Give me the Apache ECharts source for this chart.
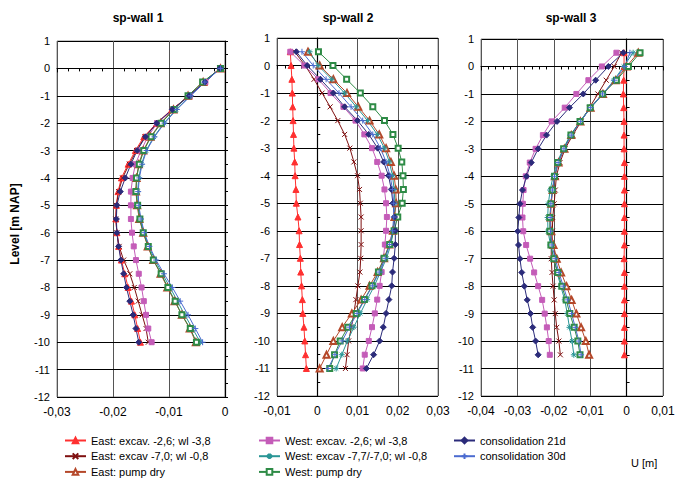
<!DOCTYPE html>
<html><head><meta charset="utf-8">
<script src="https://cdn.jsdelivr.net/npm/echarts@6/dist/echarts.min.js"></script>
<style>html,body{margin:0;padding:0;background:#fff}.c{width:684px;height:484px;position:absolute;left:0;top:0}</style>
</head><body>
<div class="c" id="p0"></div><div class="c" id="p1"></div><div class="c" id="p2"></div>
<script>
const seriesNames = [
  'East: excav. -2,6; wl -3,8',
  'East: excav -7,0; wl -0,8',
  'East: pump dry',
  'West: excav. -2,6; wl -3,8',
  'West: excav -7,7/-7,0; wl -0,8',
  'West: pump dry',
  'consolidation 21d',
  'consolidation 30d'
];
const panelTitles = ['sp-wall 1', 'sp-wall 2', 'sp-wall 3'];
const xMins = [-0.03, -0.01, -0.04];
const xMaxs = [0, 0.03, 0.01];
const yMin = -12, yMax = 1;
// interior grid-line ticks
const xGridTicks = [[-0.02, -0.01], [0.01, 0.02], [-0.03, -0.02, -0.01]];
const yGridTicks = [-11, -10, -9, -8, -7, -6, -5, -4, -3, -2, -1, 0];

// levels [m NAP]
const levels1 = [0,-0.5,-1,-1.5,-2,-2.5,-3,-3.5,-4,-4.5,-5,-5.5,-6,-6.5,-7,-7.5,-8,-8.5,-9,-9.5,-10];
const levels2 = [0.5,0,-0.5,-1,-1.5,-2,-2.5,-3,-3.5,-4,-4.5,-5,-5.5,-6,-6.5,-7,-7.5,-8,-8.5,-9,-9.5,-10,-10.5,-11];
const levels3 = [0.5,0,-0.5,-1,-1.5,-2,-2.5,-3,-3.5,-4,-4.5,-5,-5.5,-6,-6.5,-7,-7.5,-8,-8.5,-9,-9.5,-10,-10.5];

// sp-wall 1 displacements U [m]
const w1_e1 = [-0.0009,-0.0036,-0.0064,-0.0095,-0.0122,-0.0145,-0.0160,-0.0173,-0.0185,-0.0191,-0.0194,-0.0195,-0.0193,-0.0190,-0.0185,-0.0179,-0.0173,-0.0167,-0.0161,-0.0156,-0.0151];
const w1_e2 = [-0.0009,-0.0036,-0.0064,-0.0094,-0.0121,-0.0143,-0.0158,-0.0171,-0.0183,-0.0190,-0.0194,-0.0195,-0.0193,-0.0189,-0.0181,-0.0170,-0.0162,-0.0155,-0.0148,-0.0141,-0.0137];
const w1_e3 = [-0.0008,-0.0039,-0.0066,-0.0092,-0.0115,-0.0133,-0.0146,-0.0154,-0.0158,-0.0159,-0.0157,-0.0153,-0.0146,-0.0138,-0.0128,-0.0115,-0.0103,-0.0090,-0.0077,-0.0063,-0.0052];
const w1_w1 = [-0.0009,-0.0035,-0.0063,-0.0093,-0.0121,-0.0138,-0.0150,-0.0160,-0.0165,-0.0168,-0.0168,-0.0168,-0.0166,-0.0163,-0.0159,-0.0154,-0.0149,-0.0145,-0.0141,-0.0137,-0.0131];
const w1_w2 = [-0.0008,-0.0037,-0.0062,-0.0087,-0.0109,-0.0127,-0.0141,-0.0149,-0.0154,-0.0156,-0.0155,-0.0151,-0.0145,-0.0136,-0.0125,-0.0112,-0.0098,-0.0085,-0.0072,-0.0058,-0.0044];
const w1_w3 = [-0.0008,-0.0040,-0.0066,-0.0091,-0.0114,-0.0132,-0.0145,-0.0153,-0.0158,-0.0159,-0.0156,-0.0152,-0.0146,-0.0137,-0.0128,-0.0114,-0.0102,-0.0089,-0.0077,-0.0062,-0.0051];
const w1_c21 = [-0.0009,-0.0036,-0.0064,-0.0094,-0.0122,-0.0142,-0.0157,-0.0168,-0.0178,-0.0187,-0.0193,-0.0194,-0.0193,-0.0190,-0.0186,-0.0181,-0.0176,-0.0170,-0.0164,-0.0159,-0.0154];
const w1_c30 = [-0.0008,-0.0036,-0.0061,-0.0086,-0.0108,-0.0126,-0.0140,-0.0148,-0.0153,-0.0155,-0.0154,-0.0150,-0.0144,-0.0135,-0.0123,-0.0109,-0.0094,-0.0080,-0.0066,-0.0053,-0.0040];

// sp-wall 2
const w2_e1 = [-0.0067,-0.0065,-0.0063,-0.0062,-0.0061,-0.0060,-0.0059,-0.0058,-0.0056,-0.0055,-0.0053,-0.0052,-0.0048,-0.0045,-0.0044,-0.0042,-0.0041,-0.0039,-0.0037,-0.0036,-0.0033,-0.0031,-0.0029,-0.0027];
const w2_e2 = [-0.0056,-0.0030,-0.0008,0.0012,0.0032,0.0051,0.0068,0.0081,0.0091,0.0100,0.0105,0.0107,0.0109,0.0109,0.0109,0.0108,0.0106,0.0101,0.0096,0.0091,0.0085,0.0078,0.0074,0.0070];
const w2_e3 = [-0.0023,0.0006,0.0040,0.0074,0.0102,0.0130,0.0154,0.0171,0.0183,0.0191,0.0195,0.0196,0.0192,0.0188,0.0179,0.0166,0.0150,0.0130,0.0109,0.0086,0.0062,0.0040,0.0023,0.0006];
const w2_w1 = [-0.0067,-0.0032,0.0003,0.0033,0.0065,0.0095,0.0117,0.0136,0.0149,0.0160,0.0167,0.0171,0.0173,0.0171,0.0168,0.0164,0.0160,0.0155,0.0149,0.0143,0.0136,0.0128,0.0118,0.0113];
const w2_w2 = [-0.0019,0.0002,0.0036,0.0068,0.0097,0.0125,0.0149,0.0167,0.0179,0.0187,0.0191,0.0193,0.0192,0.0189,0.0183,0.0172,0.0157,0.0142,0.0124,0.0107,0.0091,0.0075,0.0061,0.0047];
const w2_w3 = [0.0003,0.0039,0.0073,0.0107,0.0138,0.0167,0.0188,0.0201,0.0210,0.0213,0.0214,0.0211,0.0200,0.0191,0.0180,0.0166,0.0152,0.0136,0.0117,0.0097,0.0076,0.0057,0.0043,0.0031];
const w2_c21 = [-0.0052,-0.0025,0.0008,0.0040,0.0068,0.0100,0.0128,0.0150,0.0165,0.0177,0.0184,0.0188,0.0192,0.0194,0.0194,0.0191,0.0187,0.0185,0.0178,0.0171,0.0164,0.0155,0.0140,0.0122];
const w2_c30 = [-0.0038,-0.0010,0.0022,0.0054,0.0084,0.0113,0.0138,0.0157,0.0171,0.0181,0.0187,0.0190,0.0190,0.0187,0.0180,0.0169,0.0154,0.0137,0.0118,0.0099,0.0080,0.0062,0.0044,0.0027];

// sp-wall 3
const w3_e1 = [-0.0007,-0.0007,-0.0008,-0.0009,-0.0008,-0.0007,-0.0007,-0.0007,-0.0006,-0.0006,-0.0006,-0.0006,-0.0006,-0.0006,-0.0006,-0.0007,-0.0006,-0.0006,-0.0006,-0.0006,-0.0006,-0.0006,-0.0006];
const w3_e2 = [-0.0014,-0.0034,-0.0056,-0.0079,-0.0102,-0.0125,-0.0148,-0.0169,-0.0183,-0.0193,-0.0196,-0.0199,-0.0203,-0.0204,-0.0207,-0.0207,-0.0205,-0.0202,-0.0199,-0.0196,-0.0192,-0.0186,-0.0182];
const w3_e3 = [0.0032,0.0000,-0.0030,-0.0065,-0.0099,-0.0127,-0.0152,-0.0171,-0.0187,-0.0197,-0.0203,-0.0207,-0.0209,-0.0207,-0.0201,-0.0192,-0.0180,-0.0165,-0.0151,-0.0138,-0.0125,-0.0112,-0.0103];
const w3_w1 = [-0.0028,-0.0068,-0.0105,-0.0138,-0.0170,-0.0206,-0.0230,-0.0250,-0.0266,-0.0277,-0.0283,-0.0285,-0.0286,-0.0284,-0.0276,-0.0265,-0.0254,-0.0243,-0.0232,-0.0225,-0.0219,-0.0214,-0.0211];
const w3_w2 = [0.0018,-0.0008,-0.0035,-0.0064,-0.0098,-0.0127,-0.0155,-0.0174,-0.0191,-0.0202,-0.0210,-0.0215,-0.0217,-0.0216,-0.0209,-0.0200,-0.0191,-0.0181,-0.0170,-0.0163,-0.0157,-0.0150,-0.0145];
const w3_w3 = [0.0037,0.0005,-0.0028,-0.0066,-0.0100,-0.0128,-0.0153,-0.0173,-0.0189,-0.0198,-0.0204,-0.0208,-0.0211,-0.0211,-0.0208,-0.0200,-0.0189,-0.0178,-0.0166,-0.0156,-0.0144,-0.0134,-0.0128];
const w3_c21 = [-0.0009,-0.0050,-0.0085,-0.0119,-0.0157,-0.0191,-0.0220,-0.0243,-0.0262,-0.0275,-0.0286,-0.0293,-0.0296,-0.0299,-0.0297,-0.0293,-0.0288,-0.0281,-0.0273,-0.0264,-0.0258,-0.0250,-0.0243];
const w3_c30 = [0.0009,-0.0005,-0.0033,-0.0066,-0.0099,-0.0127,-0.0152,-0.0172,-0.0188,-0.0198,-0.0204,-0.0208,-0.0210,-0.0209,-0.0205,-0.0196,-0.0186,-0.0174,-0.0162,-0.0151,-0.0141,-0.0131,-0.0125];

const panelLevels = [levels1, levels2, levels3];
const panelValues = [
  [w1_e1, w1_e2, w1_e3, w1_w1, w1_w2, w1_w3, w1_c21, w1_c30],
  [w2_e1, w2_e2, w2_e3, w2_w1, w2_w2, w2_w3, w2_c21, w2_c30],
  [w3_e1, w3_e2, w3_e3, w3_w1, w3_w2, w3_w3, w3_c21, w3_c30]
];

// styles
const FONT = '"Liberation Sans", Arial, sans-serif';
const FRAME = '#8c8c8c';
const colors = ['#ff3030', '#7f1010', '#b5482a', '#c45cb8', '#2a9696', '#2e8b46', '#2b2b7a', '#4b6bd0'];
const symbols = ['triangle', 'path://M0,0L10,10M10,0L0,10', 'emptyTriangle', 'rect',
  'path://M5,0L5,10M0,5L10,5M1.5,1.5L8.5,8.5M8.5,1.5L1.5,8.5', 'emptyRect', 'diamond', 'path://M5,0L5,10M0,5L10,5'];
const symbolSizes = [6, 5, 6, 5, 6, 5, 6, 6];
const gridBoxes = [
  {left: 57, top: 41, width: 168, height: 356},
  {left: 277, top: 38, width: 161, height: 358},
  {left: 481, top: 39, width: 182, height: 357}
];
const titleX = [138, 348, 571];

const fmtX = v => Math.abs(v) < 1e-10 ? '0' : v.toFixed(2).replace('.', ',');

function gridMarkLine(p) {
  const data = [];
  xGridTicks[p].forEach(v => data.push({xAxis: v, lineStyle: {color: '#555', width: 1, type: 'solid'}}));
  data.push({xAxis: 0, lineStyle: {color: '#000', width: 1.2, type: 'solid'}});
  yGridTicks.forEach(v => data.push({yAxis: v, lineStyle: {color: '#000', width: v === 0 ? 1.2 : 1, type: 'solid'}}));
  return {silent: true, symbol: ['none', 'none'], label: {show: false}, animation: false, z: 1,
    lineStyle: {type: 'solid'}, emphasis: {disabled: true}, data};
}

function panelOption(p) {
  const box = gridBoxes[p];
  const zeroOffsetY = -((0 - yMin) / (yMax - yMin)) * box.height;
  const zeroOffsetX = -((xMaxs[p] - 0) / (xMaxs[p] - xMins[p])) * box.width + 0;
  const lv = panelLevels[p];
  const series = panelValues[p].map((vals, i) => {
    const s = {
      type: 'line', name: seriesNames[i],
      data: vals.map((v, k) => [v, lv[k]]),
      symbol: symbols[i], symbolSize: symbolSizes[i], showAllSymbol: true,
      lineStyle: {color: colors[i], width: 1},
      itemStyle: {color: colors[i], borderColor: colors[i], borderWidth: 1},
      emphasis: {disabled: true}
    };
    if (i === 0) s.markLine = gridMarkLine(p);
    return s;
  });
  const opt = {
    animation: false,
    grid: [Object.assign({show: true, borderColor: FRAME, borderWidth: 1}, box)],
    xAxis: [
      {type: 'value', gridIndex: 0, min: xMins[p], max: xMaxs[p], interval: 0.01, position: 'bottom',
        axisLine: {show: false, onZero: false}, axisTick: {show: false},
        splitLine: {show: true, lineStyle: {color: '#555'}},
        axisLabel: {formatter: fmtX, fontSize: 12, color: '#000', margin: 9, fontFamily: FONT}},
      {type: 'value', gridIndex: 0, min: xMins[p], max: xMaxs[p], interval: 0.01, position: 'bottom', offset: zeroOffsetY,
        axisLine: {show: true, onZero: false, lineStyle: {color: '#000'}},
        axisTick: {show: true, length: 4},
        minorTick: {show: true, splitNumber: 5, length: 3},
        axisLabel: {show: false}, splitLine: {show: false}}
    ],
    yAxis: [
      {type: 'value', gridIndex: 0, min: yMin, max: yMax, interval: 1, position: 'left',
        axisLine: {show: false, onZero: false}, axisTick: {show: false},
        splitLine: {show: true, lineStyle: {color: '#000'}},
        axisLabel: {fontSize: 11, color: '#000', margin: 7, fontFamily: FONT}},
      {type: 'value', gridIndex: 0, min: yMin, max: yMax, interval: 1, position: 'right', offset: zeroOffsetX,
        axisLine: {show: true, onZero: false, lineStyle: {color: '#000'}},
        axisTick: {show: true, length: 3},
        minorTick: {show: true, splitNumber: 2, length: 3},
        axisLabel: {show: false}, splitLine: {show: false}}
    ],
    series
  };
  if (p === 0) {
    const legendBase = {orient: 'vertical', top: 435, padding: 0, itemWidth: 21, itemHeight: 7, itemGap: 4.7,
      selectedMode: false, textStyle: {fontSize: 11, color: '#000', fontFamily: FONT}};
    opt.legend = [
      Object.assign({}, legendBase, {left: 64, data: seriesNames.slice(0, 3)}),
      Object.assign({}, legendBase, {left: 258, data: seriesNames.slice(3, 6)}),
      Object.assign({}, legendBase, {left: 453, data: seriesNames.slice(6, 8)})
    ];
    const graphic = panelTitles.map((t, k) => ({type: 'text', x: titleX[k], y: 18,
      style: {text: t, font: 'bold 12px ' + FONT, textAlign: 'center', textVerticalAlign: 'middle', fill: '#000'}}));
    graphic.push({type: 'text', x: 15, y: 224, rotation: Math.PI / 2,
      style: {text: 'Level [m NAP]', font: 'bold 12px ' + FONT, textAlign: 'center', textVerticalAlign: 'middle', fill: '#000'}});
    graphic.push({type: 'text', x: 631, y: 463,
      style: {text: 'U [m]', font: '11px ' + FONT, textAlign: 'left', textVerticalAlign: 'middle', fill: '#000'}});
    opt.graphic = graphic;
  }
  return opt;
}

for (let p = 0; p < 3; p++) {
  const ch = echarts.init(document.getElementById('p' + p), null, {renderer: 'svg'});
  ch.setOption(panelOption(p));
}
</script>
</body></html>
